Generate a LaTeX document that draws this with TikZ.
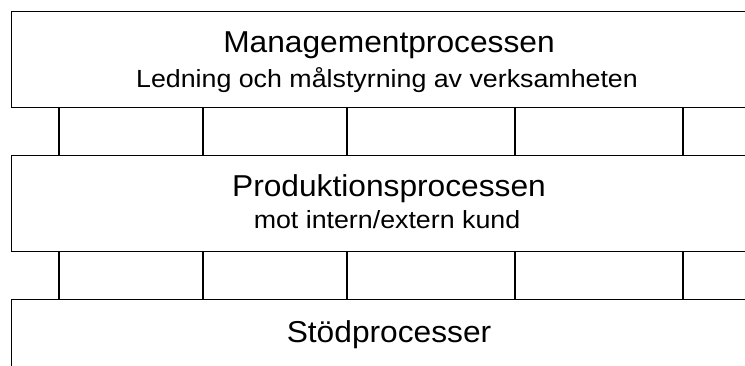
\documentclass[tikz,border=0pt]{standalone}
\usepackage{fontspec}
\setmainfont{Liberation Sans}
\newfontfamily\titlefont[FakeStretch=1.05]{Liberation Sans}
\newfontfamily\subfont[FakeStretch=1.08]{Liberation Sans}
\begin{document}
\begin{tikzpicture}[x=1pt,y=1pt,
  procbox/.style={draw=black, line width=1.3pt, minimum width=756pt, minimum height=96pt, anchor=north west, inner sep=0pt},
  link/.style={draw=black, line width=1.3pt},
  bigtxt/.style={font=\titlefont\fontsize{30.2}{34}\selectfont, anchor=base, inner sep=0pt},
  smalltxt/.style={font=\subfont\fontsize{24.8}{28}\selectfont, anchor=base, inner sep=0pt}]
\useasboundingbox (0,0) rectangle (745,-365);
\clip (0,0) rectangle (745,-365);
\node[procbox] (mgmt) at (11,-11) {};
\node[procbox] (prod) at (11,-155) {};
\node[procbox] (stod) at (11,-299) {};
\node[bigtxt] (mgmtT) at (389,-52) {Managementprocessen};
\node[smalltxt] (mgmtS) at (387,-87) {Ledning och målstyrning av verksamheten};
\node[bigtxt] (prodT) at (389,-196) {Produktionsprocessen};
\node[smalltxt] (prodS) at (387,-228) {mot intern/extern kund};
\node[bigtxt] (stodT) at (389,-342) {Stödprocesser};
\foreach \i/\x in {1/59,2/203,3/347,4/515,5/683} {
  \coordinate (c\i) at (\x,0);
  \draw[link] (c\i |- mgmt.south) -- (c\i |- prod.north);
  \draw[link] (c\i |- prod.south) -- (c\i |- stod.north);
}
\end{tikzpicture}
\end{document}
